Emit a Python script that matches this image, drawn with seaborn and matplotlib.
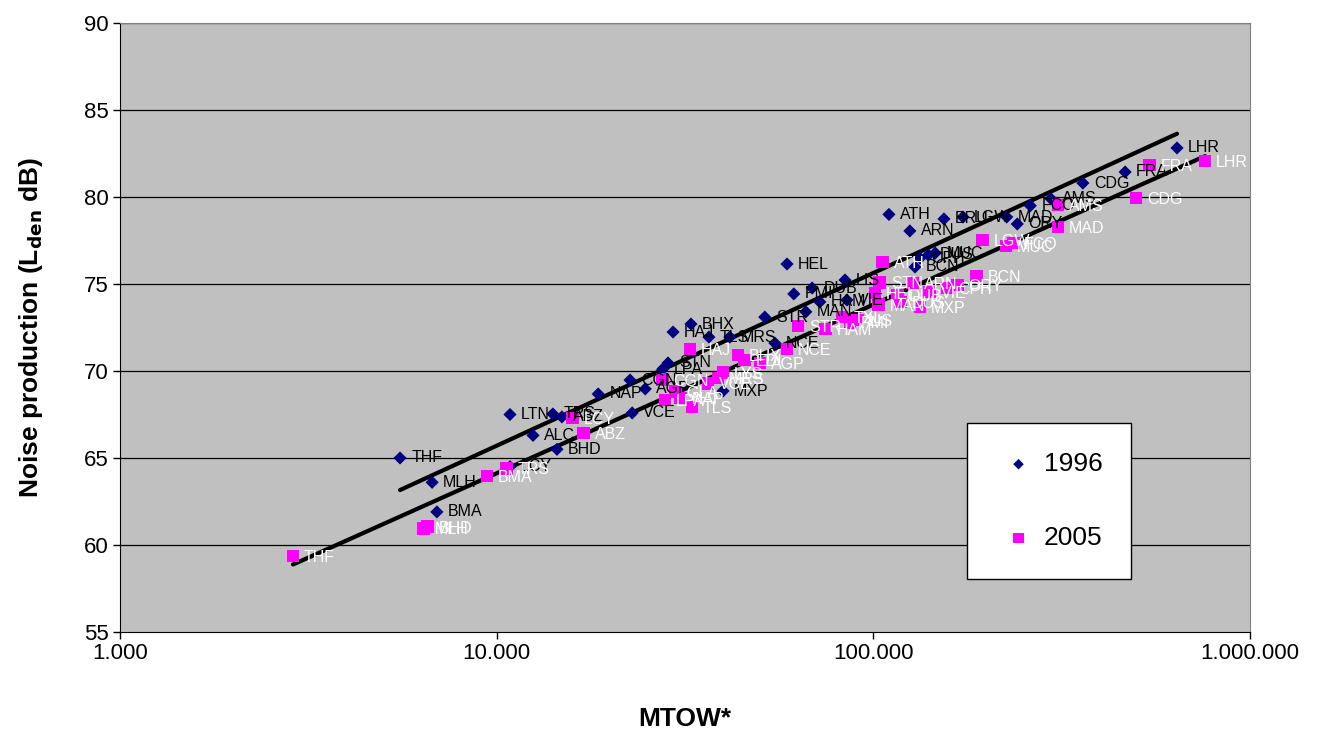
import numpy as np
import pandas as pd
import matplotlib
matplotlib.use("Agg")
import matplotlib.pyplot as plt
import matplotlib.ticker as mticker
import seaborn as sns

# 1996 airports: code, MTOW, noise
codes_1996 = ["THF", "MLH", "BMA", "LCY", "BHD", "ALC", "LTN", "TRS", "ABZ", "VCE",
              "NAP", "CGN", "AGP", "LPA", "STN", "HAJ", "BHX", "TLS", "MRS", "MXP",
              "NCE", "STR", "MAN", "PMI", "HEL", "DUB", "HAM", "VIE", "LIS", "BCN",
              "CPH", "DUS", "MUC", "ATH", "ARN", "BRU", "LGW", "MAD", "ORY", "FCO",
              "AMS", "CDG", "FRA", "LHR"]
mtow_1996 = [5540, 6740, 6940, 10850, 14460, 12490, 10850, 14100, 14900, 22900,
             18600, 22600, 24800, 27600, 28500, 29400, 32800, 36600, 41600, 39900,
             54800, 51500, 66200, 61500, 59000, 68800, 72100, 85100, 84100, 129000,
             133000, 140000, 146000, 110000, 125000, 154000, 173000, 226000, 241000, 261000,
             296000, 360000, 466000, 640000]
noise_1996 = [65.0, 63.6, 61.9, 64.5, 65.5, 66.3, 67.5, 67.53, 67.36, 67.59,
              68.68, 69.48, 68.97, 70.11, 70.46, 72.24, 72.7, 71.95, 71.95, 68.85,
              71.6, 73.1, 73.4, 74.43, 76.15, 74.77, 73.97, 74.08, 75.23, 75.98,
              76.49, 76.67, 76.78, 79.0, 78.05, 78.74, 78.85, 78.85, 78.45, 79.5,
              79.9, 80.8, 81.44, 82.82]

# 2005 airports
codes_2005 = ["THF", "MLH", "BHD", "BMA", "TRS", "LCY", "ABZ", "CGN", "LPA", "GLA",
              "NAP", "TLS", "HAJ", "VCE", "MRS", "LYS", "BHX", "EDI", "AGP", "NCE",
              "STR", "HAM", "TXL", "PMI", "LIS", "MAN", "HEL", "STN", "ATH", "DUB",
              "DUS", "ARN", "MXP", "VIE", "CPH", "ORY", "BCN", "LGW", "MUC", "FCO",
              "MAD", "AMS", "CDG", "FRA", "LHR"]
mtow_2005 = [2880, 6400, 6550, 9430, 10600, 15900, 17000, 27500, 28000, 29800,
             30700, 33000, 32600, 36400, 38700, 39900, 43700, 45600, 50000, 59000,
             63100, 74500, 82600, 86700, 90600, 103000, 101000, 104000, 106000, 116000,
             118000, 127000, 133000, 141000, 157000, 167000, 188000, 195000, 225000, 235000,
             309000, 309000, 498000, 540000, 759000]
noise_2005 = [59.37, 60.95, 61.05, 63.97, 64.4, 67.3, 66.44, 69.5, 68.33, 68.8,
              68.45, 67.93, 71.26, 69.3, 69.6, 69.9, 70.92, 70.63, 70.46, 71.26,
              72.59, 72.41, 73.1, 72.8, 72.93, 73.8, 74.48, 75.1, 76.26, 74.37,
              73.97, 75.06, 73.68, 74.54, 74.77, 74.94, 75.46, 77.53, 77.18, 77.36,
              78.28, 79.54, 79.94, 81.84, 82.07]

df96 = pd.DataFrame({"code": codes_1996, "mtow": mtow_1996, "noise": noise_1996})
df05 = pd.DataFrame({"code": codes_2005, "mtow": mtow_2005, "noise": noise_2005})

sns.set_style("ticks")
plt.rcParams["font.family"] = ["Liberation Sans", "DejaVu Sans"]
plt.rcParams["text.color"] = "black"
plt.rcParams["axes.labelcolor"] = "black"
plt.rcParams["xtick.color"] = "black"
plt.rcParams["ytick.color"] = "black"

fig = plt.figure(figsize=(13.27, 7.29), dpi=100)
ax = fig.add_axes([0.0904, 0.1331, 0.8516, 0.8353])
ax.set_facecolor("#C0C0C0")
ax.set_xscale("log")

for y in range(60, 91, 5):
    ax.axhline(y, color="black", lw=0.9, zorder=0)

# trend lines y ~ log(x)
sns.regplot(data=df96, x="mtow", y="noise", logx=True, ci=None, scatter=False,
            color="black", line_kws={"lw": 3}, ax=ax)
sns.regplot(data=df05, x="mtow", y="noise", logx=True, ci=None, scatter=False,
            color="black", line_kws={"lw": 3}, ax=ax)

sns.scatterplot(data=df96, x="mtow", y="noise", marker="D", s=45, color="#000080",
                edgecolor="none", ax=ax, label="1996", zorder=3)
sns.scatterplot(data=df05, x="mtow", y="noise", marker="s", s=85, color="#FF00FF",
                edgecolor="none", ax=ax, label="2005", zorder=3)

for _, r in df96.iterrows():
    ax.annotate(r["code"], (r["mtow"], r["noise"]), xytext=(8, 0),
                textcoords="offset points", va="center", fontsize=11.5, color="black", zorder=4)
for _, r in df05.iterrows():
    ax.annotate(r["code"], (r["mtow"], r["noise"]), xytext=(8, -1),
                textcoords="offset points", va="center", fontsize=11.5, color="white", zorder=4)

ax.set_xlim(1000, 1000000)
ax.set_ylim(55, 90)
ax.set_yticks(range(55, 91, 5))
ax.xaxis.set_major_locator(mticker.LogLocator(base=10, numticks=10))
ax.xaxis.set_minor_locator(mticker.NullLocator())
ax.xaxis.set_major_formatter(mticker.FuncFormatter(lambda v, p: f"{int(round(v)):,}".replace(",", ".")))
ax.tick_params(axis="both", labelsize=16, length=5, width=1, color="black", labelcolor="black", pad=3)

ax.set_xlabel("MTOW*", fontsize=19, fontweight="bold", labelpad=31, color="black")
ax.set_ylabel("Noise production (L$_{\\mathbf{den}}$ dB)", fontsize=19, fontweight="bold",
              labelpad=28, color="black")

for s in ["top", "right"]:
    ax.spines[s].set_color("#808080")
ax.spines["left"].set_color("black")
ax.spines["bottom"].set_color("black")

leg = ax.legend(loc="upper left", bbox_to_anchor=(0.7496, 0.343), frameon=True, fancybox=False,
                edgecolor="black", framealpha=1, fontsize=19, borderpad=1.1, labelspacing=1.9,
                handletextpad=0.1, handlelength=1.7, markerscale=0.8, borderaxespad=0,
                labelcolor="black")
leg.get_frame().set_linewidth(1.0)

fig.savefig("out.png", dpi=100)
